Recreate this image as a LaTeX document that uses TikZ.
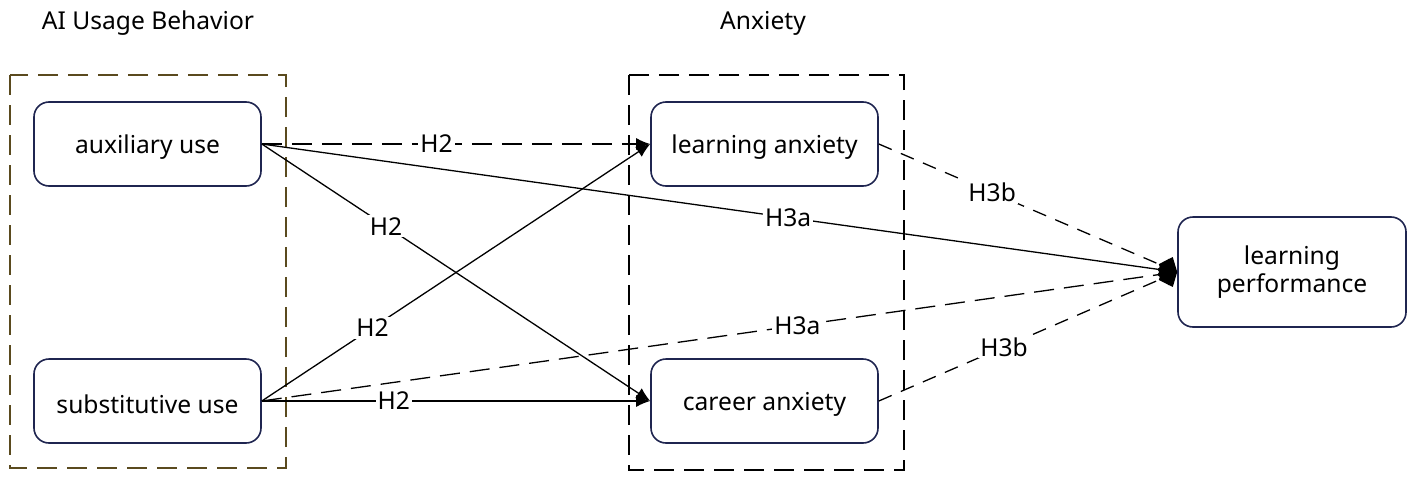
\documentclass[tikz,border=0pt]{standalone}
\usepackage{fontspec}
\setmainfont{Noto Sans}
\usetikzlibrary{arrows.meta}
\definecolor{boxline}{HTML}{1F2550}
\definecolor{groupline}{HTML}{5A4A1E}
\newcommand{\dn}[1]{\raisebox{-1.5pt}[\height][\depth]{#1}}
\begin{document}
\begin{tikzpicture}[x=0.5pt,y=-0.5pt,
  font=\fontsize{12.3}{14}\selectfont,
  var/.style={draw=boxline,line width=0.8pt,rounded corners=7.5pt,minimum width=113.5pt,minimum height=42pt,align=center,inner sep=2pt},
  grp/.style={dashed,dash pattern=on 10pt off 5pt,line width=0.7pt},
  lbl/.style={fill=white,inner sep=1pt},
  arr/.style={line width=0.65pt,-{Latex[length=7pt,width=6pt]}},
  dia/.style={line width=0.65pt,-{Diamond[length=10pt,width=12pt]}},
  dsh/.style={dash pattern=on 10pt off 5pt},
  dsh2/.style={dash pattern=on 7pt off 5pt}]
\useasboundingbox (0,0) rectangle (1417,482);
% groups
\draw[grp,draw=groupline] (10,75) rectangle (286,468);
\draw[grp,draw=black] (629,75) rectangle (904,470);
\node (t1) at (148,23) {AI Usage Behavior};
\node (t2) at (763,23) {Anxiety};
% variables
\node[var] (aux) at (147.5,144) {\dn{auxiliary use}};
\node[var] (sub) at (147.5,401) {\dn{substitutive use}};
\node[var] (la) at (764.5,144) {\dn{learning anxiety}};
\node[var] (ca) at (764.5,401) {\dn{career anxiety}};
\node[var,minimum width=114pt,minimum height=55pt] (lp) at (1292,272) {learning\\performance};
% connectors
\draw[arr,dsh] (aux.east) -- node[lbl,pos=0.45] {H2} (la.west);
\draw[arr] (aux.east) -- node[lbl,pos=0.32] {H2} (ca.west);
\draw[arr] (sub.east) -- node[lbl,pos=0.285] {H2} (la.west);
\draw[arr] (sub.east) -- node[lbl,pos=0.34] {H2} (ca.west);
\draw[dia] (aux.east) -- node[lbl,pos=0.575] {H3a} (lp.west);
\draw[dia,dsh] (sub.east) -- node[lbl,pos=0.585] {H3a} (lp.west);
\draw[dia,dsh2] (la.east) -- node[lbl,pos=0.38] {H3b} (lp.west);
\draw[dia,dsh2] (ca.east) -- node[lbl,pos=0.42] {H3b} (lp.west);
\end{tikzpicture}
\end{document}
